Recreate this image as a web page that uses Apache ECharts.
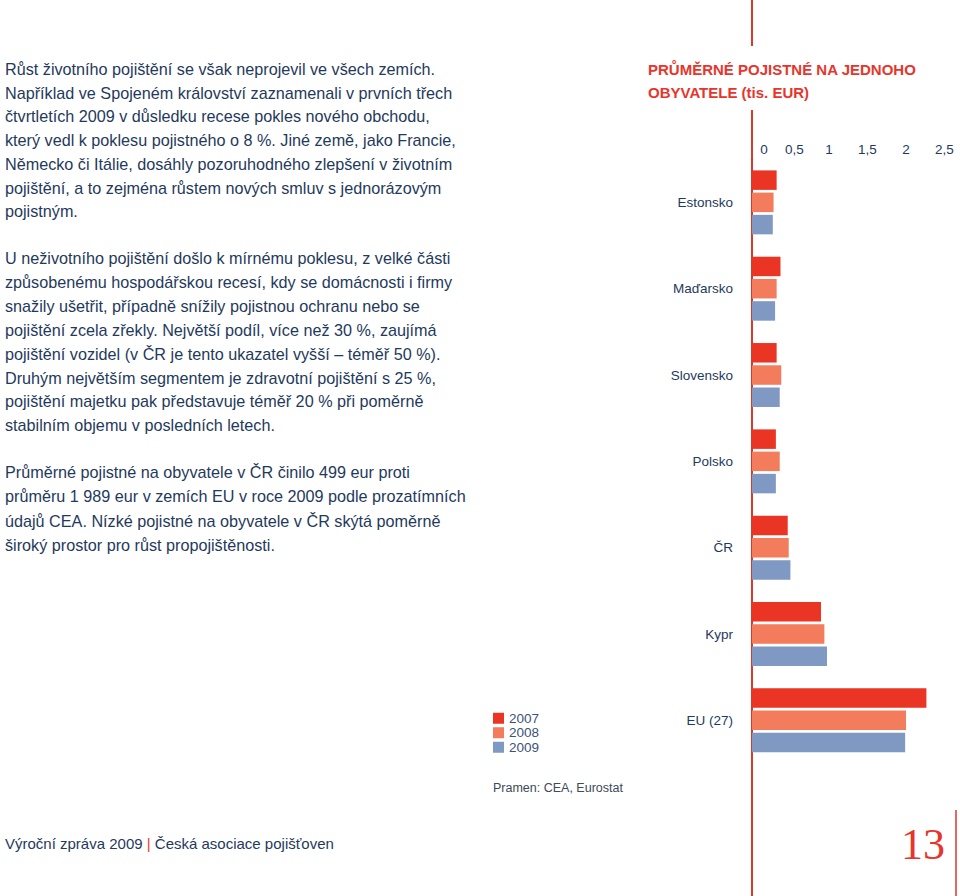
<!DOCTYPE html>
<html>
<head>
<meta charset="utf-8">
<script src="https://cdn.jsdelivr.net/npm/echarts@6/dist/echarts.min.js"></script>
<style>
html,body{margin:0;padding:0;background:#fff;}
#c{width:960px;height:896px;}
</style>
</head>
<body>
<div id="c"></div>
<script>
const categories = ['Estonsko', 'Maďarsko', 'Slovensko', 'Polsko', 'ČR', 'Kypr', 'EU (27)'];
const seriesNames = ['2007', '2008', '2009'];
const values2007 = [0.32, 0.37, 0.32, 0.31, 0.464, 0.896, 2.265];
const values2008 = [0.28, 0.32, 0.38, 0.36, 0.477, 0.94, 2.0];
const values2009 = [0.27, 0.30, 0.36, 0.31, 0.499, 0.974, 1.989];
const tickLabels = ['0', '0,5', '1', '1,5', '2', '2,5'];

const title = ['PRŮMĚRNÉ POJISTNÉ NA JEDNOHO', 'OBYVATELE (tis. EUR)'];
const para1 = [
  'Růst životního pojištění se však neprojevil ve všech zemích.',
  'Například ve Spojeném království zaznamenali v prvních třech',
  'čtvrtletích 2009 v důsledku recese pokles nového obchodu,',
  'který vedl k poklesu pojistného o 8 %. Jiné země, jako Francie,',
  'Německo či Itálie, dosáhly pozoruhodného zlepšení v životním',
  'pojištění, a to zejména růstem nových smluv s jednorázovým',
  'pojistným.'
];
const para2 = [
  'U neživotního pojištění došlo k mírnému poklesu, z velké části',
  'způsobenému hospodářskou recesí, kdy se domácnosti i firmy',
  'snažily ušetřit, případně snížily pojistnou ochranu nebo se',
  'pojištění zcela zřekly. Největší podíl, více než 30 %, zaujímá',
  'pojištění vozidel (v ČR je tento ukazatel vyšší – téměř 50 %).',
  'Druhým největším segmentem je zdravotní pojištění s 25 %,',
  'pojištění majetku pak představuje téměř 20 % při poměrně',
  'stabilním objemu v posledních letech.'
];
const para3 = [
  'Průměrné pojistné na obyvatele v ČR činilo 499 eur proti',
  'průměru 1 989 eur v zemích EU v roce 2009 podle prozatímních',
  'údajů CEA. Nízké pojistné na obyvatele v ČR skýtá poměrně',
  'široký prostor pro růst propojištěnosti.'
];
const sourceText = 'Pramen: CEA, Eurostat';

const RED = '#e8352b';
const NAVY = '#1f3a5c';
const colors = ['#ea3424', '#f27c5b', '#8099c3'];
const bodyFont = '"Liberation Sans", Arial, sans-serif';

const graphics = [];
function addPara(lines, y0, step) {
  lines.forEach((t, i) => {
    graphics.push({
      type: 'text', left: 5, top: y0 + i * step,
      style: { text: t, font: '16.2px ' + bodyFont, fill: NAVY }
    });
  });
}
addPara(para1, 61, 23.7);
addPara(para2, 250, 23.9);
addPara(para3, 464, 24.3);

title.forEach((t, i) => {
  graphics.push({
    type: 'text', left: 648, top: 62 + i * 23,
    style: { text: t, font: 'bold 15px ' + bodyFont, fill: RED }
  });
});
graphics.push({ type: 'line', shape: { x1: 752, y1: 0, x2: 752, y2: 46 }, style: { stroke: '#d9392e', lineWidth: 2 } });
graphics.push({ type: 'line', shape: { x1: 752, y1: 110, x2: 752, y2: 896 }, style: { stroke: '#d9392e', lineWidth: 2 } });
graphics.push({ type: 'line', shape: { x1: 956, y1: 810, x2: 956, y2: 896 }, style: { stroke: '#d9392e', lineWidth: 1.5 } });
graphics.push({
  type: 'text', left: 493, top: 781,
  style: { text: sourceText, font: '12.5px ' + bodyFont, fill: '#3c4a5a' }
});
graphics.push({
  type: 'text', left: 5, top: 836,
  style: {
    text: '{a|Výroční zpráva 2009 }{r||}{a| Česká asociace pojišťoven}',
    rich: {
      a: { font: '15px "Liberation Sans Narrow", "Liberation Sans", sans-serif', fill: NAVY },
      r: { font: '15px "Liberation Sans Narrow", "Liberation Sans", sans-serif', fill: RED }
    }
  }
});
graphics.push({
  type: 'text', right: 15, top: 822,
  style: { text: '13', font: '44px "Liberation Serif", "DejaVu Serif", serif', fill: RED }
});

const chart = echarts.init(document.getElementById('c'), null, { renderer: 'svg' });
const bandH = 86.33;
const option = {
  backgroundColor: '#fff',
  animation: false,
  color: colors,
  grid: { left: 752, top: 159.2, width: 192.5, height: bandH * categories.length, containLabel: false },
  legend: {
    data: seriesNames, orient: 'vertical', left: 493, top: 711, padding: 0,
    icon: 'rect', itemWidth: 11, itemHeight: 11, itemGap: 0,
    textStyle: { fontFamily: bodyFont, fontSize: 13.5, lineHeight: 14.5, color: '#3c5378' }
  },
  xAxis: {
    type: 'value', position: 'top', min: 0, max: 2.5, interval: 0.5,
    axisLine: { show: false }, axisTick: { show: false }, splitLine: { show: false },
    axisLabel: {
      margin: 3, fontFamily: bodyFont, fontSize: 13.5, color: NAVY,
      formatter: function (v) {
        const idx = Math.round(v / 0.5);
        const t = tickLabels[idx];
        if (idx === 0) return '{z|' + t + '}';
        if (idx === 1) return '{h|' + t + '}';
        return t;
      },
      rich: {
        z: { padding: [0, 0, 0, 24], fontFamily: bodyFont, fontSize: 13.5, color: NAVY },
        h: { padding: [0, 0, 0, 8], fontFamily: bodyFont, fontSize: 13.5, color: NAVY }
      }
    }
  },
  yAxis: {
    type: 'category', data: categories, inverse: true,
    axisLine: { show: true, lineStyle: { color: '#d9392e', width: 2 } },
    axisTick: { show: false },
    axisLabel: { margin: 19, fontFamily: bodyFont, fontSize: 13.5, color: NAVY }
  },
  series: [values2007, values2008, values2009].map((vals, i) => ({
    name: seriesNames[i], type: 'bar', data: vals,
    barWidth: 19.5, barGap: '14%'
  })),
  graphic: graphics
};
chart.setOption(option);
</script>
</body>
</html>
